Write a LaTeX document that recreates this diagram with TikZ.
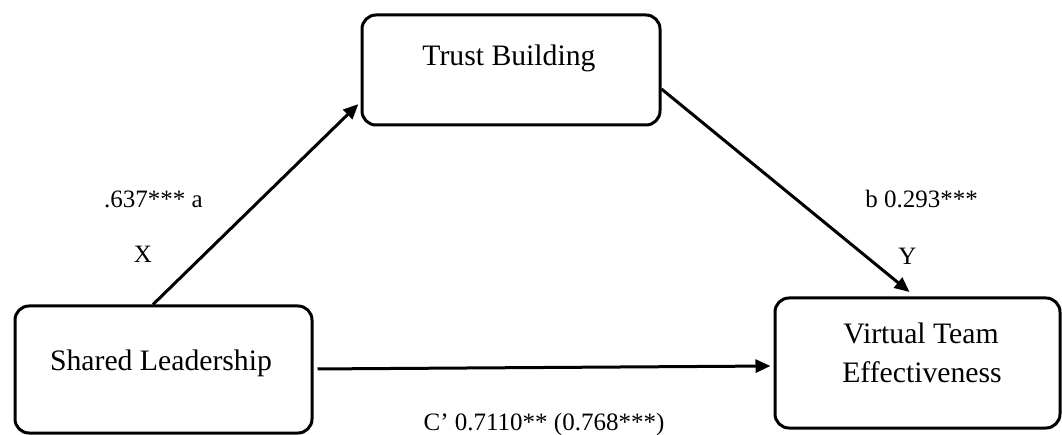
\documentclass[tikz,border=0pt]{standalone}
\usepackage{fontspec}
\setmainfont{Liberation Serif}
\usetikzlibrary{arrows.meta}
\begin{document}
\begin{tikzpicture}[x=1pt,y=-1pt,
  box/.style={draw, line width=3pt, rounded corners=14pt, inner sep=0pt},
  boxtext/.style={anchor=base, inner sep=0pt, font=\fontsize{29.7}{39}\selectfont},
  lbl/.style={anchor=base, inner sep=0pt, font=\fontsize{25}{30}\selectfont},
  arr/.style={line width=3pt, -{Triangle[length=15pt,width=13pt]}}]
\useasboundingbox (0,0) rectangle (1062,435);
% boxes
\node[box, minimum width=298pt, minimum height=110pt] (tb) at (511,70) {};
\node[box, minimum width=297pt, minimum height=127pt] (sl) at (163.5,369.5) {};
\node[box, minimum width=285pt, minimum height=130pt] (vt) at (917.5,363) {};
% box texts
\node[boxtext] (tbt) at (509,66) {Trust Building};
\node[boxtext] (slt) at (161,370) {Shared Leadership};
\node[boxtext] (vt1) at (921,343) {Virtual Team};
\node[boxtext] (vt2) at (922,382) {Effectiveness};
% connectors
\draw[arr, shorten >=3pt] (sl.north -| 153,0) -- (tb.west |- 0,102);
\draw[arr, shorten >=7pt] (tb.east |- 0,89) -- (vt.north -| 915,0);
\draw[arr, shorten <=4pt, shorten >=3pt] (sl.east |- 0,369) -- (vt.west |- 0,366);
% labels
\node[lbl] (la) at (153.5,208) {.637*** a};
\node[lbl] (lx) at (143,263) {X};
\node[lbl] (lb) at (921.5,208) {b 0.293***};
\node[lbl] (ly) at (907.5,265) {Y};
\node[lbl] (lc) at (544,430) {C’ 0.7110** (0.768***)};
\end{tikzpicture}
\end{document}
